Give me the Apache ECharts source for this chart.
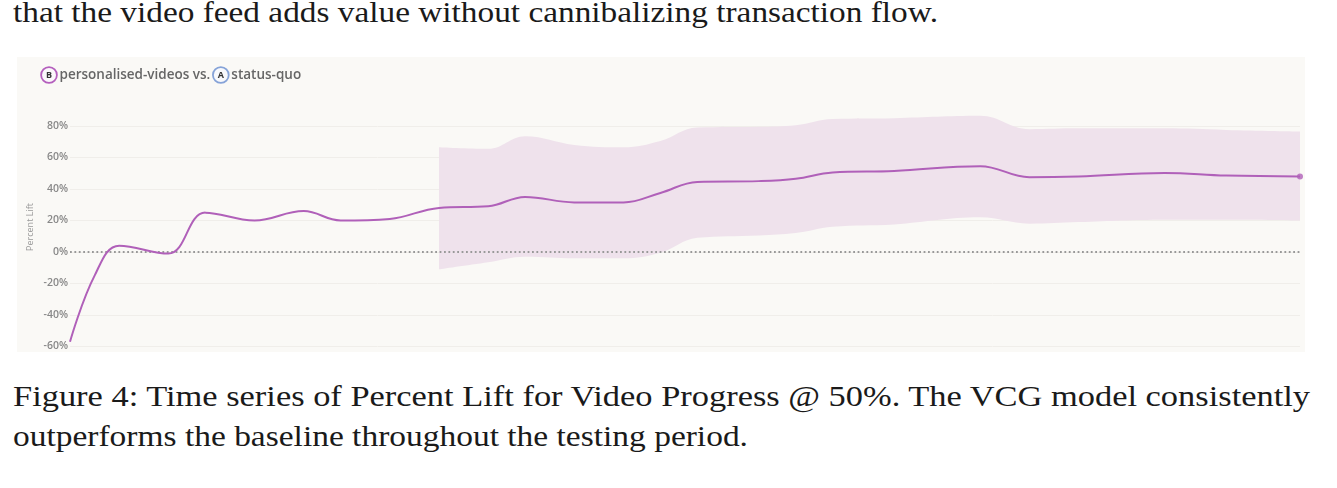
<!DOCTYPE html>
<html>
<head>
<meta charset="utf-8">
<script src="https://cdn.jsdelivr.net/npm/echarts@6/dist/echarts.min.js"></script>
<style>
    body {
        margin: 0;
        background: #fff;
        width: 1337px;
        height: 488px;
        overflow: hidden;
        position: relative;
    }
    .tex {
        position: absolute;
        left: 13px;
        font-family: 'Liberation Serif', serif;
        font-size: 30px;
        line-height: 30px;
        color: #1a1a1a;
        white-space: nowrap;
        transform-origin: 0 0;
    }
    #chart {
        position: absolute;
        left: 17px;
        top: 57px;
        width: 1288px;
        height: 295px;
        background: #faf9f6;
    }
</style>
</head>
<body>
<div class="tex" data-w="925" style="top:-3px">that the video feed adds value without cannibalizing transaction flow.</div>
<div class="tex" data-w="1297" style="top:381px">Figure 4: Time series of Percent Lift for Video Progress @ 50%. The VCG model consistently</div>
<div class="tex" data-w="735" style="top:421px">outperforms the baseline throughout the testing period.</div>
<div id="chart"></div>

<script>
// stretch the paper text to the widths in the figure
document.querySelectorAll('.tex').forEach(function(el) {
    let w = el.getBoundingClientRect().width
    el.style.transform = 'scaleX(' + (+el.dataset.w / w) + ')'
})

// test start, knots are day offsets from it
let startDate = Date.UTC(2023, 0, 1)
let dayMs = 86400000

// percent lift of B over A
let lineDays = [0, 2, 4, 8, 11, 15, 19, 22, 26, 30, 34, 37, 41, 45, 48, 51, 56, 59, 62, 67, 74, 78, 82, 89, 94, 100]
let lineVals = [-57, -15, 4, -1, 25, 20, 26, 20, 21, 28, 29, 35, 31.5, 31.5, 37.5, 44.5, 45, 46.5, 50.5, 51.5, 54.5, 47.5, 48, 50.2, 48.5, 48]

// confidence band, only shown once enough data is in
let bandDays = [30, 34, 37, 41, 45, 48, 51, 56, 59, 62, 67, 74, 78, 82, 89, 94, 100]
let bandUpper = [66.5, 65.5, 73.5, 68, 66.5, 70.5, 79, 79.5, 80.5, 84.5, 85, 86.5, 78, 78.5, 78.5, 77.5, 76.5]
let bandLower = [-11, -6.5, -3, -4, -4, -0.5, 9, 10.5, 12, 16, 17.5, 22, 18, 19, 20.5, 20.5, 20]

let yTicks = [-60, -40, -20, 0, 20, 40, 60, 80]

let lineColor = '#b060b9'
let bandColor = '#efe2ec'

let toTime = d => startDate + d * dayMs
let linePts = lineDays.map((d, i) => [toTime(d), lineVals[i]])
let lowerPts = bandDays.map((d, i) => [toTime(d), bandLower[i]])
let spanPts = bandDays.map((d, i) => [toTime(d), bandUpper[i] - bandLower[i]])
let last = linePts.length - 1

let circle = function(border, bg) {
    return {
        width: 14, height: 14, lineHeight: 14, align: 'center',
        borderRadius: 9, borderWidth: 1.8, borderColor: border,
        backgroundColor: bg,
        fontSize: 9, fontWeight: 'bold', color: '#333', fontFamily: 'Open Sans'
    }
}

let chart = echarts.init(document.getElementById('chart'))
chart.setOption({
    animation: false,
    title: {
        left: 20,
        top: 6,
        text: '{b|B} personalised-videos vs. {a|A} status-quo',
        textStyle: {
            fontFamily: 'Open Sans',
            fontSize: 13.5,
            fontWeight: 600,
            color: '#666',
            rich: {
                b: circle('#b45fbd', '#fbf8fb'),
                a: circle('#86a3d8', '#f8f9fc')
            }
        }
    },
    graphic: [{
        type: 'text',
        x: 13,
        y: 170,
        rotation: Math.PI / 2,
        style: {
            text: 'Percent Lift',
            fontFamily: 'Open Sans',
            fontSize: 9,
            fill: '#999',
            align: 'center',
            verticalAlign: 'middle'
        }
    }],
    grid: {
        left: 53,
        right: 5,
        top: 69,
        bottom: 5
    },
    xAxis: {
        type: 'time',
        min: toTime(lineDays[0]),
        max: toTime(lineDays[last]),
        show: false
    },
    yAxis: {
        type: 'value',
        min: yTicks[0],
        max: yTicks[yTicks.length - 1],
        interval: 20,
        axisLine: { show: false },
        axisTick: { show: false },
        axisLabel: {
            margin: 2,
            formatter: '{value}%',
            fontFamily: 'Open Sans',
            fontSize: 10.5,
            fontWeight: 600,
            color: '#888'
        },
        splitLine: {
            lineStyle: { color: '#f0eeea', width: 1 }
        }
    },
    series: [
        {
            type: 'line',
            stack: 'band',
            stackStrategy: 'all',
            data: lowerPts,
            smooth: 0.4,
            clip: false,
            symbol: 'none',
            lineStyle: { opacity: 0 },
            silent: true
        },
        {
            type: 'line',
            stack: 'band',
            stackStrategy: 'all',
            data: spanPts,
            smooth: 0.4,
            clip: false,
            symbol: 'none',
            lineStyle: { opacity: 0 },
            areaStyle: { color: bandColor, opacity: 1 },
            silent: true
        },
        {
            name: 'personalised-videos',
            type: 'line',
            data: linePts,
            smooth: 0.4,
            symbol: 'none',
            lineStyle: { color: lineColor, width: 2 },
            markLine: {
                silent: true,
                symbol: 'none',
                label: { show: false },
                lineStyle: { color: '#999', width: 1.8, type: [1.8, 2.6] },
                data: [{ yAxis: 0 }]
            },
            z: 5
        },
        {
            type: 'scatter',
            data: [linePts[last]],
            symbolSize: 6,
            itemStyle: { color: lineColor },
            z: 6
        }
    ]
})
</script>
</body>
</html>
